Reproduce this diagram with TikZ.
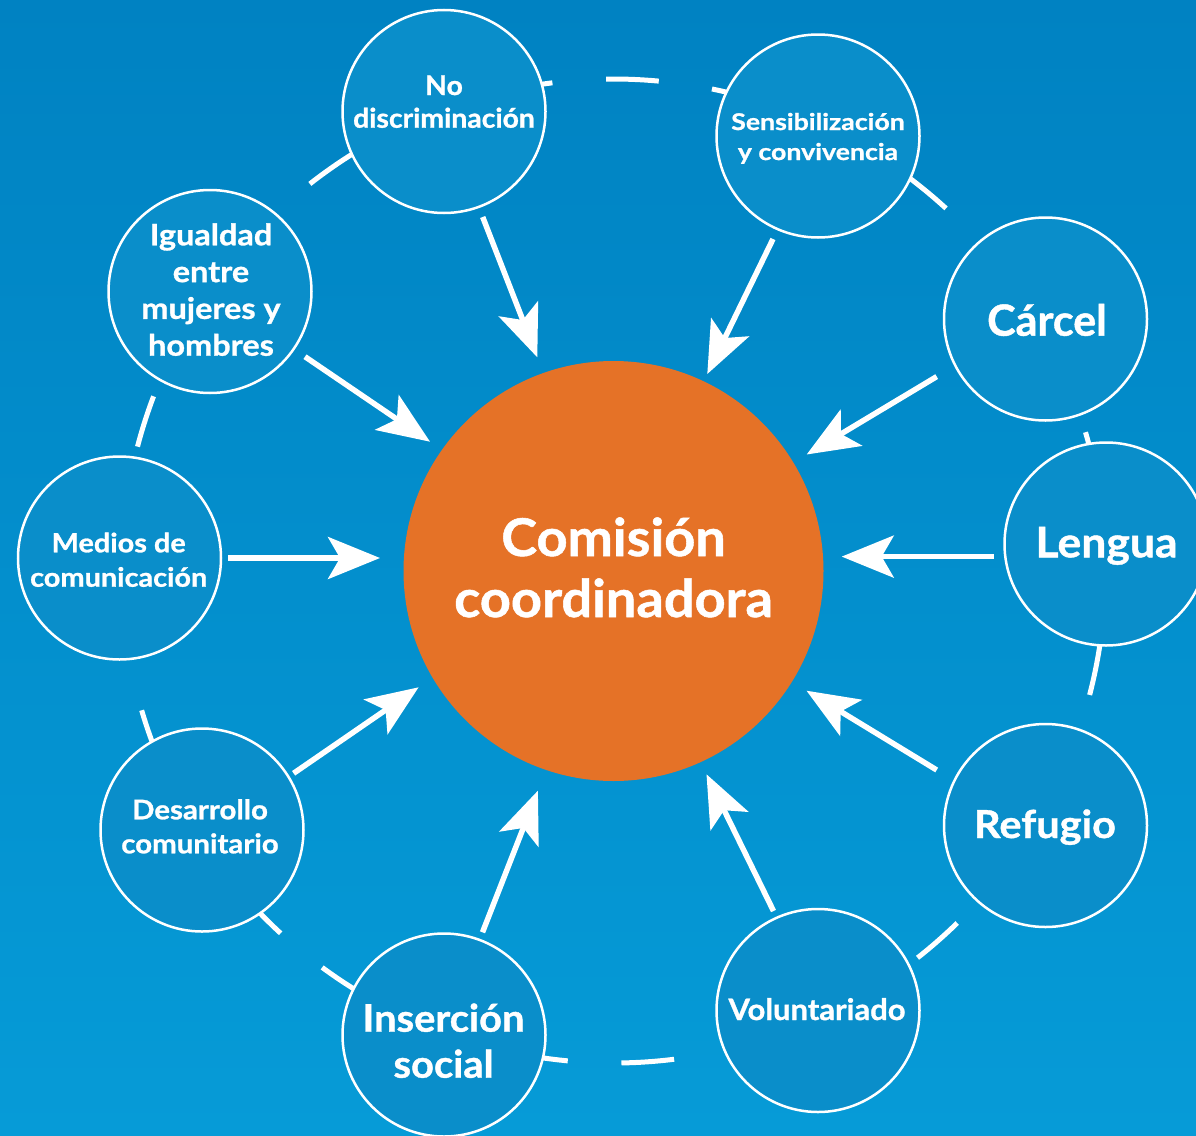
\documentclass[tikz,border=0pt]{standalone}
\usepackage{fontspec}
\setmainfont{Lato}[BoldFeatures={FakeBold=1}]
\usetikzlibrary{arrows.meta}
\definecolor{bgtop}{RGB}{0,130,194}
\definecolor{bgbot}{RGB}{6,155,215}
\definecolor{cfill}{RGB}{10,142,202}
\definecolor{orng}{RGB}{229,114,39}
\newcommand{\tf}[3]{\fontsize{#1}{#2}\selectfont\bfseries\addfontfeatures{FakeStretch=#3}}
\tikzset{
  topic/.style={circle, draw=white, line width=2.5pt, fill=cfill, minimum size=203pt, inner sep=0pt},
  hub/.style={circle, fill=orng, minimum size=420pt, inner sep=0pt},
  lbl/.style={text=white, align=center, anchor=base, inner sep=0pt},
  flow/.style={white, line width=5.5pt, -{Stealth[length=52pt, width=42pt, inset=12pt]}},
  ringdash/.style={white, line width=5pt}
}
\begin{document}
\begin{tikzpicture}[x=1pt,y=1pt]
\useasboundingbox (0,0) rectangle (1196,-1135);
\shade[top color=bgtop, bottom color=bgbot] (0,0) rectangle (1196,-1135);
\coordinate (ctr) at (613.5,-571);
% ring of dashes
\foreach \k in {0,...,28}{
  \pgfmathsetmacro{\a}{84.72+\k*360/29}
  \draw[ringdash] ([shift={(\a:492)}]ctr) arc[start angle=\a, delta angle=6.15, radius=492];
}
% hub
\node[hub] (hub) at (ctr) {};
% topic circles
\node[topic] (nd) at (444,-111.5) {};
\node[topic] (sc) at (818,-136) {};
\node[topic] (ca) at (1045.5,-319) {};
\node[topic] (le) at (1106,-544) {};
\node[topic] (re) at (1045.5,-825.5) {};
\node[topic] (vo) at (818,-1010.5) {};
\node[topic] (is) at (444,-1035) {};
\node[topic] (dc) at (202,-830) {};
\node[topic] (mc) at (119.5,-558) {};
\node[topic] (ig) at (210,-291.5) {};
% labels (anchor = baseline of last line)
\node[lbl, font={\tf{52}{61}{1.04}}] (thub) at (613.5,-617) {Comisión\\coordinadora};
\node[lbl, font={\tf{27}{32.7}{1.05}}] (tnd) at (444,-127.7) {No\\discriminación};
\node[lbl, font={\tf{23}{30}{1.16}}] (tsc) at (818,-160) {Sensibilización\\y convivencia};
\node[lbl, font={\tf{43}{50}{1.0}}] (tca) at (1047,-335.7) {Cárcel};
\node[lbl, font={\tf{42}{50}{1.06}}] (tle) at (1106.5,-557.3) {Lengua};
\node[lbl, font={\tf{38.5}{46}{1.08}}] (tre) at (1045,-838) {Refugio};
\node[lbl, font={\tf{29.5}{36}{1.05}}] (tvo) at (817,-1020) {Voluntariado};
\node[lbl, font={\tf{38}{46}{1.05}}] (tis) at (443.5,-1077.7) {Inserción\\social};
\node[lbl, font={\tf{27}{34}{1.09}}] (tdc) at (200,-853.3) {Desarrollo\\comunitario};
\node[lbl, font={\tf{26.5}{34.4}{1.09}}] (tmc) at (118.7,-586.7) {Medios de\\comunicación};
\node[lbl, font={\tf{29.5}{36.8}{1.1}}] (tig) at (211,-355.7) {Igualdad\\entre\\mujeres y\\hombres};
% arrow end points
\coordinate (nd-s) at (482.7,-217);   \coordinate (nd-e) at (537.3,-357.3);
\coordinate (sc-s) at (773,-239);     \coordinate (sc-e) at (707.3,-374);
\coordinate (ca-s) at (936.7,-376.6); \coordinate (ca-e) at (806.7,-454.5);
\coordinate (le-s) at (994,-556.6);   \coordinate (le-e) at (841.7,-556.6);
\coordinate (re-s) at (936.7,-770);   \coordinate (re-e) at (806.5,-690.7);
\coordinate (vo-s) at (773.5,-911);   \coordinate (vo-e) at (706.5,-774.3);
\coordinate (is-s) at (482.5,-932.3); \coordinate (is-e) at (537.9,-790.7);
\coordinate (dc-s) at (293.6,-773.3); \coordinate (dc-e) at (418.6,-687.3);
\coordinate (mc-s) at (228,-558);     \coordinate (mc-e) at (380,-558);
\coordinate (ig-s) at (305,-356.7);   \coordinate (ig-e) at (430,-441.7);
\foreach \n in {nd,sc,ca,le,re,vo,is,dc,mc,ig}{
  \draw[flow] (\n-s) -- (\n-e);
}
\end{tikzpicture}
\end{document}
